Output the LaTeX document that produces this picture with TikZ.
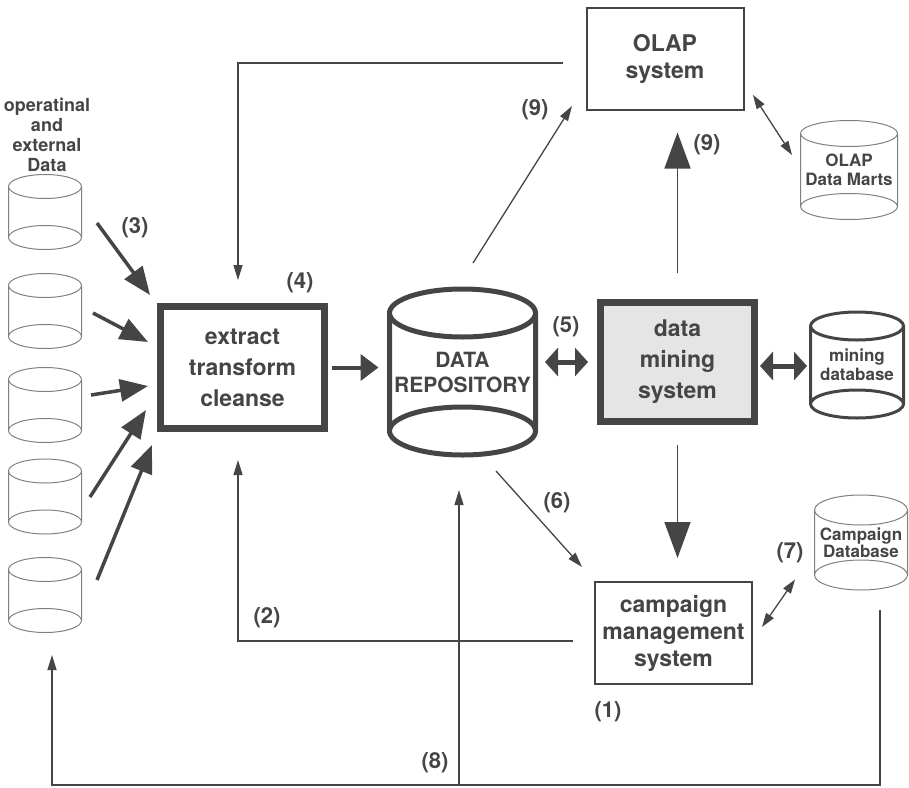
\documentclass[tikz,border=0pt]{standalone}
\usepackage{fontspec}
\setmainfont{TeX Gyre Heros}
\usepackage{tikz}
\usetikzlibrary{arrows.meta,calc}
\usepackage{xcolor}
\definecolor{ink}{gray}{0.27}
\definecolor{pale}{gray}{0.5}
\definecolor{shade}{gray}{0.9}

% outline of a drum round a named node
\newcommand{\drum}[4]{%
  \draw[#1] (#2.north) ellipse [x radius=#3, y radius=#4]
            (#2.south) ellipse [x radius=#3, y radius=#4]
            (#2.north west) -- (#2.south west)
            (#2.north east) -- (#2.south east);
}

\begin{document}
\begin{tikzpicture}[x=1pt, y=-1pt,
        box/.style={draw=ink, line width=2pt, fill=white, align=center, inner sep=0pt, text=ink, font=\bfseries\fontsize{23}{27}\selectfont},
        heavybox/.style={box, line width=7pt, font=\bfseries\fontsize{23}{31}\selectfont},
        drumbox/.style={draw=none, inner sep=0pt, outer sep=0pt, align=center, text=ink},
        num/.style={inner sep=0pt, text=ink, font=\bfseries\fontsize{22}{24}\selectfont},
        thin/.style={draw=ink, line width=1.3pt, -{Triangle[length=15pt,width=9pt]}},
        twoway/.style={draw=ink, line width=1.3pt, {Triangle[length=14pt,width=9pt]}-{Triangle[length=14pt,width=9pt]}},
        fat/.style={draw=ink, line width=3.5pt, -{Triangle[length=28pt,width=22pt]}},
        wide/.style={draw=ink, line width=4pt, -{Triangle[length=18pt,width=26pt]}},
        fattwoway/.style={draw=ink, line width=5pt, {Triangle[length=13pt,width=28pt]}-{Triangle[length=13pt,width=28pt]}},
        big/.style={draw=ink, line width=1.5pt, -{Triangle[length=36pt,width=26pt]}}
    ]
    \useasboundingbox (0,0) rectangle (909,787);
    % sources
    \node[drumbox, font=\bfseries\fontsize{18}{20}\selectfont] (srctxt) at (47,135) {operatinal\\and\\external\\Data};
    \foreach \i/\y in {1/212,2/311,3/405,4/496.5,5/595}
        \node[drumbox, minimum width=73pt, minimum height=51pt] (src\i) at (45,\y) {};
    \foreach \i in {1,...,5}
        \drum{pale, line width=1pt}{src\i}{36.5}{12}
    % boxes
    \node[heavybox, minimum width=164pt, minimum height=122pt] (etc) at (242.5,367.5) {extract\\transform\\cleanse};
    \node[heavybox, fill=shade, minimum width=154pt, minimum height=119pt] (dms) at (677.5,362) {data\\mining\\system};
    \node[box, minimum width=157pt, minimum height=102pt] (olap) at (665,58.5) {OLAP\\system};
    \node[box, minimum width=157pt, minimum height=102pt] (camp) at (673.5,633) {campaign\\management\\system};
    % drums
    \node[drumbox, minimum width=146pt, minimum height=118pt, font=\bfseries\fontsize{21}{25}\selectfont] (repo) at (462.5,372) {DATA\\REPOSITORY};
    \drum{ink, line width=5pt}{repo}{73}{24}
    \node[drumbox, minimum width=93pt, minimum height=78pt, font=\bfseries\fontsize{17}{19}\selectfont] (mine) at (857,365) {mining\\database};
    \drum{ink, line width=3pt}{mine}{46.5}{14}
    \node[drumbox, minimum width=97pt, minimum height=73pt, font=\bfseries\fontsize{17}{19}\selectfont] (marts) at (849,170) {OLAP\\Data Marts};
    \drum{pale, line width=1pt}{marts}{48.5}{13}
    \node[drumbox, minimum width=93pt, minimum height=65pt, font=\bfseries\fontsize{17}{16}\selectfont] (campdb) at (861,542.5) {Campaign\\Database};
    \drum{pale, line width=1pt}{campdb}{46.5}{15}
    % numbers
    \node[num] (n1) at (608,712) {(1)};
    \node[num] (n2) at (267,618) {(2)};
    \node[num] (n3) at (135,228) {(3)};
    \node[num] (n4) at (300,283) {(4)};
    \node[num] (n5) at (566,327) {(5)};
    \node[num] (n6) at (557,503) {(6)};
    \node[num] (n7) at (790,553) {(7)};
    \node[num] (n8) at (435,763) {(8)};
    \node[num] (n9a) at (535,110) {(9)};
    \node[num] (n9b) at (707,145) {(9)};
    % feeds
    \draw[fat] ($(src1.east)+(15.5,11)$) -- ($(etc.north west)+(-7,-8)$);
    \draw[fat] ($(src2.east)+(11.5,2)$) -- ($(etc.north west)+(-9,39)$);
    \draw[fat] ($(src3.east)+(9.5,-10)$) -- ($(etc.north west)+(-9,83)$);
    \draw[fat] ($(src4.east)+(8.5,0.5)$) -- ($(etc.south west)+(-11,-22)$);
    \draw[fat] ($(src5.east)+(15.5,-15)$) -- ($(etc.south west)+(-5,13)$);
    \draw[wide, shorten <=4pt, shorten >=11pt] (etc.east) -- (etc.east -| repo.west);
    \draw[fattwoway, shorten <=9.5pt, shorten >=9pt] (dms.west -| repo.east) -- (dms.west);
    \draw[fattwoway, shorten <=2pt, shorten >=3.5pt] ($(dms.east)+(0,4)$) -- ($(dms.east -| mine.west)+(0,4)$);
    \draw[big, shorten <=26pt, shorten >=22pt] (dms.north) -- (dms.north |- olap.south);
    \draw[big, shorten <=20pt, shorten >=23pt] (dms.south) -- (dms.south |- camp.north);
    % thin links
    \draw[thin] ($(repo.north)+(10.5,-50)$) -- ($(olap.south west)+(-13.5,-4.5)$);
    \draw[thin] ($(olap.west)+(-22.5,4.5)$) -| ($(etc.north)+(-4.5,-23)$);
    \draw[thin] ($(repo.south)+(33.5,40)$) -- ($(camp.north west)+(-12,-14)$);
    \draw[twoway] ($(camp.east)+(9,-6)$) -- ($(campdb.west)+(-19.5,37)$);
    \draw[twoway] ($(olap.east)+(8.5,36.5)$) -- ($(marts.west)+(-8.5,-15)$);
    \draw[thin] ($(camp.west)+(-21,8)$) -| ($(etc.south)+(-4.5,28)$);
    % feedback (8)
    \coordinate (fb) at ($(campdb.south)+(19,35)$);
    \coordinate (busL) at ($(src5.south)+(7,164.5)$);
    \coordinate (up8) at ($(repo.south)+(-3.5,59)$);
    \draw[thin] (fb) |- (busL) -- ($(src5.south)+(7,34.5)$);
    \draw[thin] (up8 |- busL) -- (up8);
\end{tikzpicture}
\end{document}
